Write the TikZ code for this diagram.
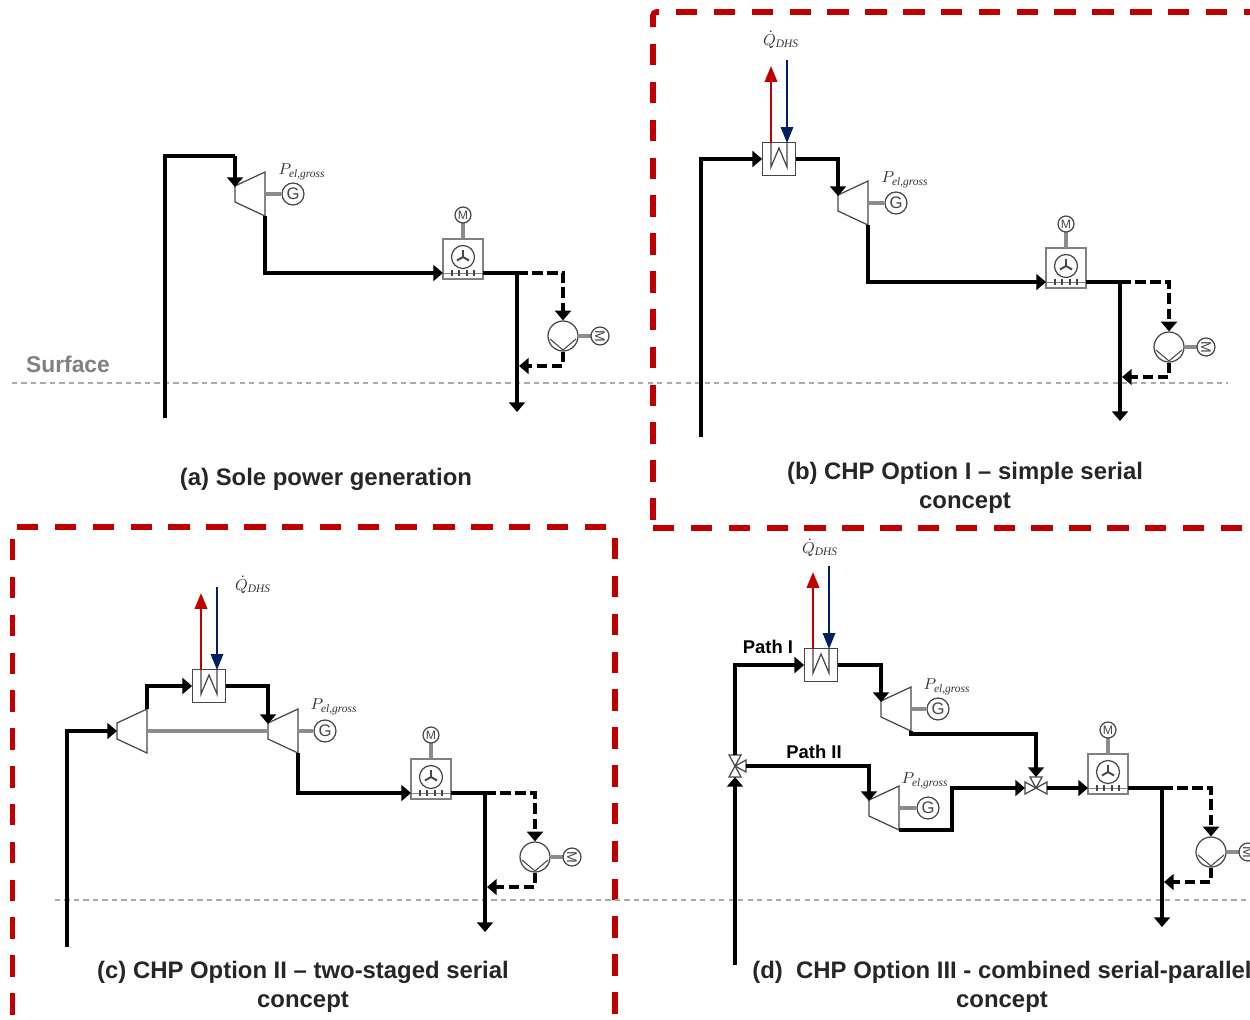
\documentclass[tikz,border=0pt]{standalone}
\usepackage{fontspec}
\setmainfont{Liberation Sans}
\newfontfamily\labelfont{Liberation Serif}
\usetikzlibrary{arrows.meta}
\definecolor{framered}{RGB}{192,0,0}
\definecolor{hotred}{RGB}{192,0,0}
\definecolor{coldblue}{RGB}{0,32,96}
\definecolor{compgray}{RGB}{70,70,70}
\definecolor{surfgray}{RGB}{170,170,170}
\definecolor{shaftgray}{RGB}{140,140,140}
\newcommand{\labelsub}[1]{\hbox{\fontsize{6.5}{6.5}\labelfont\itshape #1}}
\newcommand{\pgross}{$P_{\labelsub{el,gross}}$}
\newcommand{\qdhs}{$\dot{Q}_{\labelsub{DHS}}$}
\tikzset{
  pipe/.style={line width=2.5pt, -{Triangle[length=5.5pt,width=9pt]}},
  pipeplain/.style={line width=2.5pt},
  pipedash/.style={pipe, dash pattern=on 6pt off 2.6pt},
  shaft/.style={line width=2pt, shaftgray},
  comp/.style={line width=0.7pt, draw=compgray, fill=white},
  elec/.style={comp, circle, inner sep=0pt, minimum size=0.44cm, text=compgray, font=\fontsize{9.5}{9.5}\selectfont},
  hotline/.style={line width=1.4pt, hotred, -{Triangle[length=9pt,width=7pt]}},
  coldline/.style={line width=1.1pt, coldblue, -{Triangle[length=9pt,width=7pt]}},
  surfline/.style={line width=1.5pt, surfgray, dash pattern=on 3pt off 2.4pt},
  redframe/.style={line width=3.2pt, framered, dash pattern=on 12.2pt off 9.34pt},
  caption/.style={font=\fontsize{13.6}{16.4}\selectfont\bfseries, align=center, text=black!85},
  plabel/.style={text=black!80, font=\fontsize{9.5}{9.5}\selectfont},
  pathlabel/.style={font=\fontsize{10.5}{12}\selectfont\bfseries},
  pics/turbine/.style={code={
    \draw[comp] (0,-8) -- (30,-22) -- (30,22) -- (0,8) -- cycle;
    \coordinate (-w) at (0,0);
    \coordinate (-in) at (0,-7);
    \coordinate (-top) at (30,-22);
    \coordinate (-out) at (30,22);
    \coordinate (-sh) at (30,0);
    \coordinate (-shw) at (0,0);
  }},
  pics/hx/.style={code={
    \node[comp, minimum size=0.65cm, inner sep=0pt] (-box) at (0,0) {};
    \draw[line width=0.7pt, compgray] (-8,-16) -- (-8,8) -- (0,-11) -- (8,8) -- (8,-16);
    \coordinate (-hot) at (-8,-16);
    \coordinate (-hotend) at (-8,-93);
    \coordinate (-cold) at (8,-16);
    \coordinate (-coldstart) at (8,-99);
    \draw[hotline] (-hot) -- (-hotend);
    \draw[coldline] (-coldstart) -- (-cold);
  }},
  pics/valve/.style={code={
    \foreach \a in {#1}
      \draw[comp, rotate=\a] (0,0) -- (11,-6) -- (11,6) -- cycle;
    \coordinate (-e) at (11,0);
    \coordinate (-w) at (-11,0);
    \coordinate (-n) at (0,-11);
    \coordinate (-s) at (0,11);
  }},
  pics/cooling/.style 2 args={code={
    % fan box, motor and pump
    \node[comp, draw=gray, minimum size=0.8cm, inner sep=0pt] (-box) at (20,-14) {};
    \draw[shaft] (20,-34) -- (20,-50);
    \node[elec, minimum size=0.32cm, font=\fontsize{7}{7}\selectfont] (-motor) at (20,-58) {M};
    \node[comp, circle, minimum size=0.46cm, inner sep=0pt] (-fan) at (20,-16) {};
    \foreach \a in {270,30,150}
      \draw[line width=1.1pt, compgray] (20,-16) -- ++(\a:7);
    \draw[line width=0.5pt, gray] (0,0) -- (40,0);
    \foreach \t in {9,16,24,31}
      \draw[line width=0.6pt, compgray] (\t,-3) -- (\t,3);
    \coordinate (-in) at (0,0);
    \coordinate (-out) at (40,0);
    \coordinate (-j) at (74,0);
    \coordinate (-end) at (74,139);
    \coordinate (-ret) at (76,#2+30);
    \node[comp, circle, minimum size=0.6cm, inner sep=0pt] (-pump) at (#1,#2) {};
    \draw[line width=0.6pt, compgray] (#1-13,#2+3) -- (#1,#2+14) -- (#1+13,#2+3);
    \draw[shaft] (-pump.east) -- (#1+28,#2);
    \node[elec, minimum size=0.36cm, rotate=-90, font=\fontsize{8}{8}\selectfont] (-pm) at (#1+37,#2) {M};
    % lines
    \draw[pipeplain] (-out) -- (-j);
    \draw[pipe] (-j) -- (-end);
    \draw[pipedash] (-j) -| (-pump.north);
    \draw[pipedash] (-pump.south) |- (-ret);
  }},
}
\begin{document}
\begin{tikzpicture}[x=0.02cm,y=-0.02cm]
  \useasboundingbox (0,0) rectangle (1250,1019);
  \clip (0,0) rectangle (1250,1019);

  % frames
  \draw[line width=3.2pt, framered, rounded corners=2pt] (653,27) -- (653,12) -- (659,12);
  \draw[redframe] (676,12) -- (1252,12);
  \draw[redframe] (653,44) -- (653,524);
  \draw[redframe] (653,527.7) -- (1252,527.7);
  \draw[redframe] (17,526.7) -- (612,526.7);
  \draw[redframe] (12.5,539) -- (12.5,1025);
  \draw[redframe] (615,538) -- (615,1025);

  % surface lines
  \coordinate (sa1) at (12,383);
  \coordinate (sa2) at (1228,383);
  \draw[surfline] (sa1) -- (sa2);
  \coordinate (sc1) at (55,900);
  \coordinate (sc2) at (1250,900);
  \draw[surfline] (sc1) -- (sc2);
  \node[text=gray, font=\fontsize{13}{15}\selectfont\bfseries] (surf) at (68,364) {Surface};

  % (a)
  \coordinate (wa) at (165,418);
  \coordinate (ca) at (235,156);
  \pic (ta) at (235,194) {turbine};
  \pic (fa) at (443,273) {cooling={120}{63}};
  \node[elec] (ga) at (293,194) {G};
  \draw[shaft] (ta-sh) -- (ga);
  \node[plabel] (pa) at (302,172) {\pgross};
  \draw[pipeplain] (wa) |- (ca);
  \draw[pipe] (ca) -- (ta-in);
  \draw[pipe] (ta-out) |- (fa-in);
  \node[caption] (capa) at (326,479) {(a) Sole power generation};

  % (b)
  \coordinate (wb) at (701,437);
  \pic (hb) at (779,159) {hx};
  \pic (tb) at (838,203) {turbine};
  \pic (fb) at (1046,282) {cooling={123}{65}};
  \node[elec] (gb) at (896,203) {G};
  \draw[shaft] (tb-sh) -- (gb);
  \node[plabel] (pb) at (905,180) {\pgross};
  \node[plabel] (qb) at (781,40) {\qdhs};
  \draw[pipe] (wb) |- (hb-box.west);
  \draw[pipe] (hb-box.east) -| (tb-in);
  \draw[pipe] (tb-out) |- (fb-in);
  \node[caption] (capb) at (965,488) {(b) CHP Option I -- simple serial\\concept};

  % (c)
  \coordinate (wc) at (67,947);
  \pic (cc) at (117,731) {turbine};
  \pic (hc) at (209,686) {hx};
  \pic (tc) at (268,731) {turbine};
  \pic (fc) at (411,793) {cooling={124}{64}};
  \node[elec] (gc) at (325,731) {G};
  \draw[shaft] (tc-sh) -- (gc);
  \draw[shaft] (cc-sh) -- (tc-shw);
  \node[plabel] (pc) at (334,707) {\pgross};
  \node[plabel] (qc) at (253,585) {\qdhs};
  \draw[pipe] (wc) |- (cc-w);
  \draw[pipe] (cc-top) |- (hc-box.west);
  \draw[pipe] (hc-box.east) -| (tc-in);
  \draw[pipe] (tc-out) |- (fc-in);
  \node[caption] (capc) at (303,987) {(c) CHP Option II -- two-staged serial\\concept};

  % (d)
  \coordinate (wd) at (735,965);
  \pic (va) at (735,766) {valve={90,270,0}};
  \pic (vb) at (1036,788) {valve={180,0,90}};
  \pic (hd) at (821,665) {hx};
  \pic (td) at (881,709) {turbine};
  \pic (te) at (869,808) {turbine};
  \pic (fd) at (1088,788) {cooling={123}{64}};
  \node[elec] (gd) at (938,709) {G};
  \draw[shaft] (td-sh) -- (gd);
  \node[elec] (ge) at (928,808) {G};
  \draw[shaft] (te-sh) -- (ge);
  \node[plabel] (pd) at (947,687) {\pgross};
  \node[plabel] (pe) at (925,781) {\pgross};
  \node[plabel] (qd) at (820,548) {\qdhs};
  \draw[pipe] (wd) -- (va-s);
  \draw[pipe] (va-n) |- (hd-box.west);
  \draw[pipe] (hd-box.east) -| (td-in);
  \draw[pipe] (va-e) -| (te-in);
  \draw[pipe] (td-out) -- ++(0,3) -| (vb-n);
  \draw[pipe] (te-out) -- ++(53,0) |- (vb-w);
  \draw[pipe] (vb-e) -- (fd-in);
  \node[pathlabel] (pi) at (768,647) {Path I};
  \node[pathlabel] (pii) at (814,752) {Path II};
  \node[caption] (capd) at (1002,987) {(d)\ \ CHP Option III - combined serial-parallel\\concept};
\end{tikzpicture}
\end{document}
